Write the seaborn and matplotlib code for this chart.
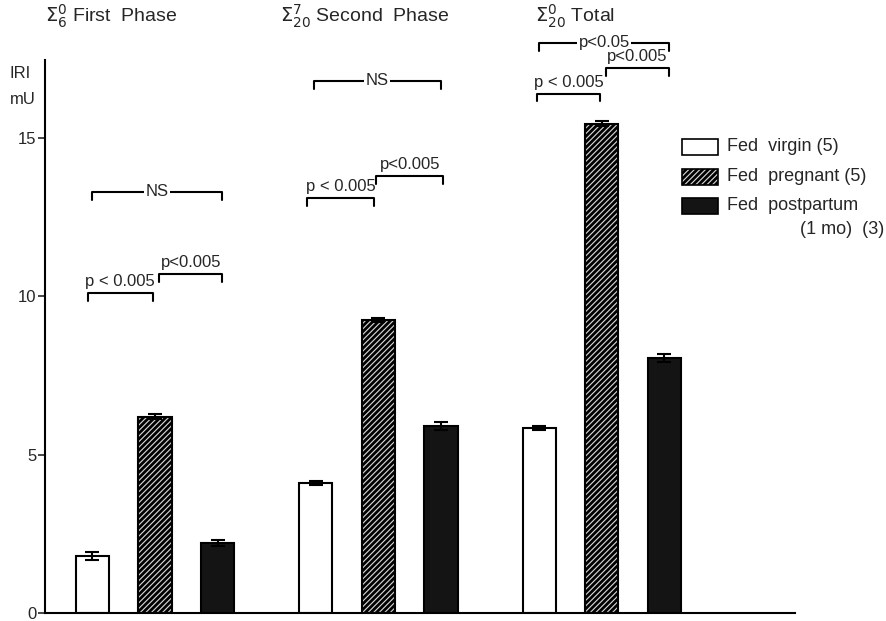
import numpy as np
import pandas as pd
import seaborn as sns
import matplotlib.pyplot as plt
from matplotlib.patches import Rectangle

# =============================================================================
# Data
# =============================================================================
phases = ["First Phase", "Second Phase", "Total"]
groups = ["Fed virgin (5)", "Fed pregnant (5)", "Fed postpartum (1 mo) (3)"]
virgin = [1.8, 4.1, 5.85]
pregnant = [6.2, 9.25, 15.45]
postpartum = [2.2, 5.9, 8.05]
err_virgin = [0.12, 0.06, 0.06]
err_pregnant = [0.07, 0.06, 0.07]
err_postpartum = [0.1, 0.12, 0.13]

legend_labels = ["Fed  virgin (5)", "Fed  pregnant (5)", "Fed  postpartum"]
legend_extra = "(1 mo)  (3)"
titles = [r"$\Sigma_{6}^{0}$ First  Phase", r"$\Sigma_{20}^{7}$ Second  Phase",
          r"$\Sigma_{20}^{0}$ Total"]

# (group, x1 offset, x2 offset, y, text, inline)
brackets = [(0, -0.28, 0.30, 13.3, "NS", True),
            (0, -0.30, -0.01, 10.1, "p < 0.005", False),
            (0, 0.02, 0.30, 10.7, "p<0.005", False),
            (1, -0.29, 0.28, 16.8, "NS", True),
            (1, -0.32, -0.02, 13.1, "p < 0.005", False),
            (1, -0.01, 0.29, 13.8, "p<0.005", False),
            (2, -0.28, 0.30, 18.0, "p<0.05", True),
            (2, 0.02, 0.30, 17.2, "p<0.005", False),
            (2, -0.29, -0.01, 16.4, "p < 0.005", False)]

df = pd.DataFrame({
    "phase": phases * 3,
    "group": np.repeat(groups, 3),
    "IRI": virgin + pregnant + postpartum,
})
errs = [err_virgin, err_pregnant, err_postpartum]

# =============================================================================
# Plot
# =============================================================================
sns.set_style("white")
plt.rcParams['font.family'] = ['Liberation Sans', 'DejaVu Sans']
plt.rcParams['hatch.linewidth'] = 2.0

fig = plt.figure(figsize=(8.87, 6.21), dpi=100)
ax = fig.add_axes([45 / 887, 1 - 613 / 621, 750 / 887, 553 / 621])

colors = {groups[0]: "white", groups[1]: "#d8d8d8", groups[2]: "#141414"}
sns.barplot(data=df, x="phase", y="IRI", hue="group", hue_order=groups,
            palette=colors, width=0.84, gap=0.47, errorbar=None,
            edgecolor="black", linewidth=1.5, legend=False, ax=ax)

hatches = [None, "//////", None]
for cont, hatch, err in zip(ax.containers, hatches, errs):
    xs, ys = [], []
    for bar in cont:
        if hatch:
            bar.set_hatch(hatch)
        xs.append(bar.get_x() + bar.get_width() / 2)
        ys.append(bar.get_height())
    ax.errorbar(xs, ys, yerr=err, fmt="none", ecolor="black",
                elinewidth=1.5, capsize=5, capthick=1.5, zorder=5)

# brackets
for g, x1, x2, y, txt, inline in brackets:
    a, b = g + x1, g + x2
    ax.plot([a, a, b, b], [y - 0.25, y, y, y - 0.25], color="black",
            lw=1.5, clip_on=False)
    if inline:
        ax.text((a + b) / 2, y, txt, ha="center", va="center", fontsize=12,
                bbox=dict(facecolor="white", edgecolor="none", pad=1),
                clip_on=False)
    else:
        ax.text((a + b) / 2, y + 0.12, txt, ha="center", va="bottom",
                fontsize=12, clip_on=False)

ax.set_xlim(-0.492, 2.864)
ax.set_ylim(0, 17.46)
ax.set_yticks([0, 5, 10, 15])
ax.set_xticks([])
ax.set_xlabel("")
ax.set_ylabel("")
ax.tick_params(axis="y", direction="out", length=5, width=1.2,
               labelsize=12, left=True, pad=1)
for side in ["top", "right"]:
    ax.spines[side].set_visible(False)
for side in ["left", "bottom"]:
    ax.spines[side].set_linewidth(1.5)
    ax.spines[side].set_color("black")

# titles
for x, t in zip([45, 280, 535], titles):
    fig.text(x / 887, 1 - 16 / 621, t, fontsize=14, va="center", ha="left")
fig.text(10 / 887, 1 - 73 / 621, "IRI", fontsize=12, va="center")
fig.text(10 / 887, 1 - 99 / 621, "mU", fontsize=12, va="center")

# legend
fc = ["white", "#d8d8d8", "#141414"]
for i, (lab, c, h) in enumerate(zip(legend_labels, fc, hatches)):
    yc = 147 + 29.5 * i
    fig.patches.append(Rectangle((682 / 887, 1 - (yc + 8) / 621),
                                 36 / 887, 16 / 621, facecolor=c,
                                 edgecolor="black", lw=1.2, hatch=h,
                                 transform=fig.transFigure))
    fig.text(727 / 887, 1 - yc / 621, lab, fontsize=13, va="center")
fig.text(884 / 887, 1 - 230 / 621, legend_extra, fontsize=13, va="center",
         ha="right")

plt.savefig("out.png", dpi=100)
plt.close()
